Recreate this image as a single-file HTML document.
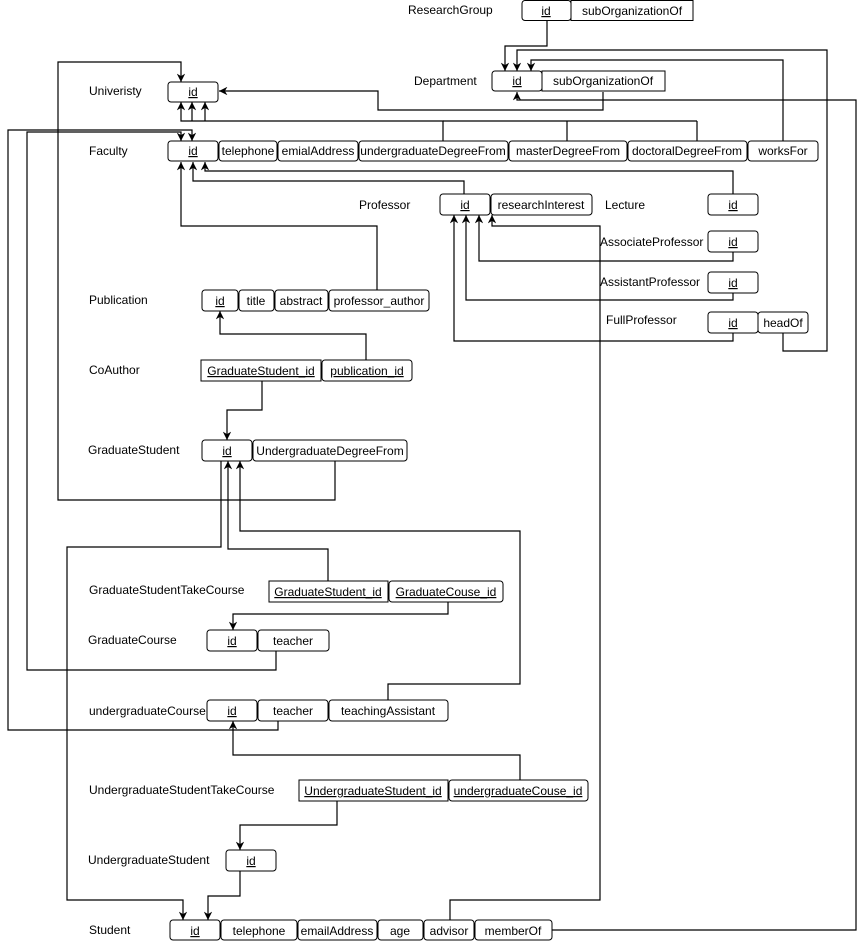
<!DOCTYPE html>
<html><head><meta charset="utf-8"><style>
html,body{margin:0;padding:0;background:#fff;}
svg{display:block;font-family:"Liberation Sans",sans-serif;font-size:12px;}
</style></head><body>
<svg width="866" height="941" viewBox="0 0 866 941" xmlns="http://www.w3.org/2000/svg">
<defs>
<marker id="a" viewBox="0 0 10 10" refX="10" refY="5" markerWidth="7" markerHeight="7" orient="auto-start-reverse">
<path d="M0,0 L10,5 L0,10 L3,5 z" fill="#000"/></marker>
</defs>
<g fill="none" stroke="#000" stroke-width="1.2">
<polyline points="547,21 547,46 505,46 505,71" marker-end="url(#a)"/>
<polyline points="783,141 783,60 531,60 531,71" marker-end="url(#a)"/>
<polyline points="783,333 783,351 827,351 827,50 517,50 517,71" marker-end="url(#a)"/>
<polyline points="603,92 603,110 378,110 378,91 219,91" marker-end="url(#a)"/>
<polyline points="443,141 443,121 181,121 181,102" marker-end="url(#a)"/>
<polyline points="192,121 192,102" marker-end="url(#a)"/>
<polyline points="205,121 205,102" marker-end="url(#a)"/>
<line x1="443" y1="121" x2="697" y2="121"/>
<line x1="567" y1="121" x2="567" y2="141"/>
<line x1="697" y1="121" x2="697" y2="141"/>
<polyline points="552,930 856,930 856,100 517,100 517,92" marker-end="url(#a)"/>
<polyline points="278,721 278,730 8,730 8,130 192,130 192,141" marker-end="url(#a)"/>
<polyline points="276,651 276,670 27,670 27,132 181,132 181,141" marker-end="url(#a)"/>
<polyline points="335,461 335,500 58,500 58,62 181,62 181,82" marker-end="url(#a)"/>
<polyline points="377,290 377,226 181,226 181,162" marker-end="url(#a)"/>
<polyline points="464,194 464,181 193,181 193,162" marker-end="url(#a)"/>
<polyline points="733,194 733,171 205,171 205,162" marker-end="url(#a)"/>
<polyline points="733,252 733,261 479,261 479,215" marker-end="url(#a)"/>
<polyline points="733,292 733,300 466,300 466,215" marker-end="url(#a)"/>
<polyline points="733,333 733,341 454,341 454,215" marker-end="url(#a)"/>
<polyline points="450,920 450,900 600,900 600,226 492,226 492,215" marker-end="url(#a)"/>
<polyline points="366,360 366,334 220,334 220,311" marker-end="url(#a)"/>
<polyline points="262,381 262,410 227,410 227,440" marker-end="url(#a)"/>
<polyline points="221,461 221,547 67,547 67,900 183,900 183,920" marker-end="url(#a)"/>
<polyline points="328,581 328,549 228,549 228,461" marker-end="url(#a)"/>
<polyline points="388,700 388,684 520,684 520,531 240,531 240,461" marker-end="url(#a)"/>
<polyline points="448,602 448,614 233,614 233,630" marker-end="url(#a)"/>
<polyline points="520,780 520,755 233,755 233,721" marker-end="url(#a)"/>
<polyline points="337,801 337,825 240,825 240,850" marker-end="url(#a)"/>
<polyline points="240,871 240,896 208,896 208,920" marker-end="url(#a)"/>
</g>
<g fill="#fff" stroke="#000" stroke-width="1">
<rect x="522" y="0.5" width="49" height="20" rx="3"/><rect x="571" y="0.5" width="122" height="20"/>
<rect x="492" y="71" width="50" height="20" rx="3"/><rect x="542" y="71" width="123" height="20"/>
<rect x="168" y="82" width="50" height="20" rx="3"/>
<rect x="168" y="141" width="50" height="20" rx="3"/><rect x="219" y="141" width="58" height="20" rx="3"/><rect x="278" y="141" width="80" height="20" rx="3"/><rect x="359" y="141" width="149" height="20" rx="3"/><rect x="509" y="141" width="118" height="20" rx="3"/><rect x="628" y="141" width="119" height="20" rx="3"/><rect x="748" y="141" width="70" height="20" rx="3"/>
<rect x="440" y="194" width="50" height="21" rx="3"/><rect x="491" y="194" width="101" height="21" rx="3"/>
<rect x="708" y="194" width="50" height="21" rx="3"/>
<rect x="708" y="231" width="50" height="21" rx="3"/>
<rect x="708" y="272" width="50" height="21" rx="3"/>
<rect x="708" y="312" width="50" height="21" rx="3"/><rect x="758" y="312" width="50" height="21" rx="3"/>
<rect x="202" y="290" width="36" height="21" rx="3"/><rect x="239" y="290" width="35" height="21" rx="3"/><rect x="275" y="290" width="53" height="21" rx="3"/><rect x="329" y="290" width="100" height="21" rx="3"/>
<rect x="201" y="360" width="120" height="21"/><rect x="322" y="360" width="90" height="21" rx="3"/>
<rect x="202" y="440" width="50" height="21" rx="3"/><rect x="253" y="440" width="154" height="21" rx="3"/>
<rect x="269" y="581" width="119" height="21"/><rect x="389" y="581" width="114" height="21" rx="3"/>
<rect x="207" y="630" width="50" height="21" rx="3"/><rect x="258" y="630" width="71" height="21" rx="3"/>
<rect x="207" y="700" width="50" height="21" rx="3"/><rect x="258" y="700" width="70" height="21" rx="3"/><rect x="329" y="700" width="119" height="21" rx="3"/>
<rect x="299" y="780" width="149" height="21"/><rect x="449" y="780" width="139" height="21" rx="3"/>
<rect x="226" y="850" width="50" height="21" rx="3"/>
<rect x="170" y="920" width="50" height="20" rx="3"/><rect x="221" y="920" width="76" height="20" rx="3"/><rect x="298" y="920" width="79" height="20" rx="3"/><rect x="378" y="920" width="45" height="20" rx="3"/><rect x="424" y="920" width="50" height="20" rx="3"/><rect x="475" y="920" width="77" height="20" rx="3"/>
</g>
<g fill="#000">
<text x="408" y="14">ResearchGroup</text>
<text x="414" y="85">Department</text>
<text x="89" y="95">Univeristy</text>
<text x="89" y="155">Faculty</text>
<text x="359" y="209">Professor</text>
<text x="605" y="209">Lecture</text>
<text x="600" y="246">AssociateProfessor</text>
<text x="600" y="286">AssistantProfessor</text>
<text x="606" y="324">FullProfessor</text>
<text x="89" y="304">Publication</text>
<text x="89" y="374">CoAuthor</text>
<text x="88" y="454">GraduateStudent</text>
<text x="89" y="594">GraduateStudentTakeCourse</text>
<text x="88" y="644">GraduateCourse</text>
<text x="89" y="715">undergraduateCourse</text>
<text x="89" y="794">UndergraduateStudentTakeCourse</text>
<text x="88" y="864">UndergraduateStudent</text>
<text x="89" y="934">Student</text>
</g>
<g fill="#000" text-anchor="middle">
<text x="546" y="15" text-decoration="underline">id</text><text x="632" y="15">subOrganizationOf</text>
<text x="517" y="85" text-decoration="underline">id</text><text x="603" y="85">subOrganizationOf</text>
<text x="193" y="96" text-decoration="underline">id</text>
<text x="193" y="155" text-decoration="underline">id</text><text x="248" y="155">telephone</text><text x="318" y="155">emialAddress</text><text x="433" y="155">undergraduateDegreeFrom</text><text x="568" y="155">masterDegreeFrom</text><text x="687" y="155">doctoralDegreeFrom</text><text x="783" y="155">worksFor</text>
<text x="465" y="209" text-decoration="underline">id</text><text x="541" y="209">researchInterest</text>
<text x="733" y="209" text-decoration="underline">id</text>
<text x="733" y="246" text-decoration="underline">id</text>
<text x="733" y="287" text-decoration="underline">id</text>
<text x="733" y="327" text-decoration="underline">id</text><text x="783" y="327">headOf</text>
<text x="220" y="305" text-decoration="underline">id</text><text x="256" y="305">title</text><text x="301" y="305">abstract</text><text x="379" y="305">professor_author</text>
<text x="261" y="375" text-decoration="underline">GraduateStudent_id</text><text x="367" y="375" text-decoration="underline">publication_id</text>
<text x="227" y="455" text-decoration="underline">id</text><text x="330" y="455">UndergraduateDegreeFrom</text>
<text x="328" y="596" text-decoration="underline">GraduateStudent_id</text><text x="446" y="596" text-decoration="underline">GraduateCouse_id</text>
<text x="232" y="645" text-decoration="underline">id</text><text x="293" y="645">teacher</text>
<text x="232" y="715" text-decoration="underline">id</text><text x="293" y="715">teacher</text><text x="388" y="715">teachingAssistant</text>
<text x="373" y="795" text-decoration="underline">UndergraduateStudent_id</text><text x="518" y="795" text-decoration="underline">undergraduateCouse_id</text>
<text x="251" y="865" text-decoration="underline">id</text>
<text x="195" y="935" text-decoration="underline">id</text><text x="259" y="935">telephone</text><text x="337" y="935">emailAddress</text><text x="400" y="935">age</text><text x="449" y="935">advisor</text><text x="513" y="935">memberOf</text>
</g>
</svg>
</body></html>
